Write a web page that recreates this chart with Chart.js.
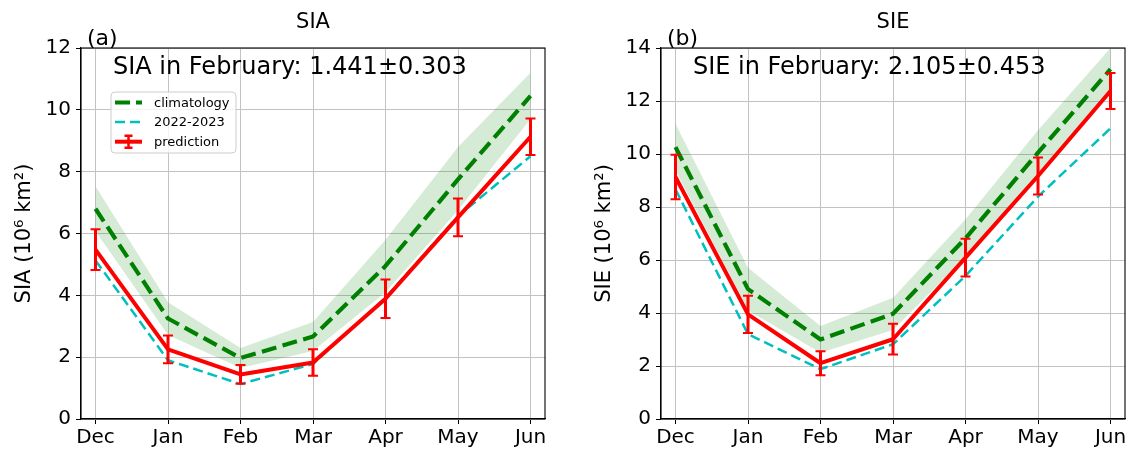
<!DOCTYPE html>
<html>
<head>
<meta charset="utf-8">
<script src="https://cdn.jsdelivr.net/npm/chart.js@4.4.1/dist/chart.umd.min.js"></script>
<style>
  body { margin: 0; background: #fff; }
  #wrap { position: relative; width: 1131px; height: 450px; }
  canvas { position: absolute; top: 0; }
</style>
</head>
<body>
<div id="wrap">
  <canvas id="sia" width="565" height="450" style="left:0"></canvas>
  <canvas id="sie" width="566" height="450" style="left:565px"></canvas>
</div>
<script>
const months = ['Dec', 'Jan', 'Feb', 'Mar', 'Apr', 'May', 'Jun'];

// SIA (10^6 km^2)
const siaClim     = [6.80, 3.25, 1.97, 2.67, 4.95, 7.75, 10.45];
const siaClimLow  = [6.07, 2.72, 1.65, 2.20, 4.10, 6.75, 9.70];
const siaClimHigh = [7.53, 3.78, 2.30, 3.14, 5.80, 8.80, 11.20];
const siaObs      = [5.13, 1.90, 1.13, 1.78, 3.92, 6.56, 8.50];
const siaPred     = [5.48, 2.25, 1.441, 1.83, 3.89, 6.52, 9.13];
const siaErr      = [0.66, 0.45, 0.303, 0.43, 0.62, 0.61, 0.59];

// SIE (10^6 km^2)
const sieClim     = [10.26, 4.90, 3.00, 3.97, 6.82, 10.05, 13.20];
const sieClimLow  = [9.38, 4.09, 2.50, 3.36, 6.10, 9.20, 12.40];
const sieClimHigh = [11.14, 5.71, 3.51, 4.58, 7.54, 10.90, 14.00];
const sieObs      = [8.67, 3.20, 1.88, 2.82, 5.40, 8.39, 10.97];
const siePred     = [9.13, 3.95, 2.105, 3.01, 6.09, 9.17, 12.38];
const sieErr      = [0.84, 0.70, 0.453, 0.58, 0.71, 0.70, 0.68];

const FONT = 'DejaVu Sans';
const GREEN = '#008000', CYAN = '#00bfbf', RED = '#ff0000';

const toXY = arr => arr.map((v, i) => ({ x: i, y: v }));

// error bars, title, panel letter, note, frame and legend
const extras = {
  id: 'extras',
  afterDatasetsDraw(chart, args, opts) {
    const ctx = chart.ctx, xs = chart.scales.x, ys = chart.scales.y;
    ctx.save();
    ctx.strokeStyle = RED;
    opts.values.forEach((v, i) => {
      const x = xs.getPixelForValue(i);
      const y1 = ys.getPixelForValue(v - opts.errors[i]);
      const y2 = ys.getPixelForValue(v + opts.errors[i]);
      ctx.lineWidth = 3;
      ctx.beginPath(); ctx.moveTo(x, y1); ctx.lineTo(x, y2); ctx.stroke();
      ctx.lineWidth = 2;
      ctx.beginPath();
      ctx.moveTo(x - 5, y1); ctx.lineTo(x + 5, y1);
      ctx.moveTo(x - 5, y2); ctx.lineTo(x + 5, y2);
      ctx.stroke();
    });
    ctx.restore();
  },
  afterDraw(chart, args, opts) {
    const ctx = chart.ctx, a = chart.chartArea;
    ctx.save();
    // frame
    ctx.strokeStyle = '#000';
    ctx.lineWidth = 1.1;
    ctx.strokeRect(a.left, a.top, a.right - a.left, a.bottom - a.top);
    // texts
    ctx.fillStyle = '#000';
    ctx.textBaseline = 'alphabetic';
    ctx.textAlign = 'center';
    ctx.font = '21px "' + FONT + '"';
    ctx.fillText(opts.title, (a.left + a.right) / 2, a.top - 20);
    ctx.textAlign = 'left';
    ctx.font = '22px "' + FONT + '"';
    ctx.fillText(opts.panel, a.left + 6, a.top - 3);
    ctx.font = '24px "' + FONT + '"';
    ctx.fillText(opts.note, a.left + 32, a.top + 26);
    if (opts.legend) {
      const bx = a.left + 30, by = a.top + 44, bw = 125, bh = 61;
      ctx.beginPath();
      ctx.roundRect(bx, by, bw, bh, 4);
      ctx.fillStyle = 'rgba(255,255,255,0.8)';
      ctx.fill();
      ctx.strokeStyle = '#cccccc';
      ctx.lineWidth = 1;
      ctx.stroke();
      const x0 = a.left + 34, x1 = a.left + 61, tx = a.left + 73;
      const rows = [
        { label: 'climatology', color: GREEN, width: 4.2, dash: [15, 6] },
        { label: '2022-2023', color: CYAN, width: 2.5, dash: [10, 5] },
        { label: 'prediction', color: RED, width: 4, dash: [] }
      ];
      ctx.font = '13px "' + FONT + '"';
      ctx.textBaseline = 'middle';
      rows.forEach((r, k) => {
        const y = a.top + 54.5 + k * 19.6;
        ctx.strokeStyle = r.color;
        ctx.lineWidth = r.width;
        ctx.setLineDash(r.dash);
        ctx.beginPath(); ctx.moveTo(x0, y); ctx.lineTo(x1, y); ctx.stroke();
        ctx.setLineDash([]);
        if (k === 2) {
          const xm = (x0 + x1) / 2;
          ctx.lineWidth = 2.5;
          ctx.beginPath();
          ctx.moveTo(xm, y - 6); ctx.lineTo(xm, y + 6);
          ctx.moveTo(xm - 4, y - 6); ctx.lineTo(xm + 4, y - 6);
          ctx.moveTo(xm - 4, y + 6); ctx.lineTo(xm + 4, y + 6);
          ctx.stroke();
        }
        ctx.fillStyle = '#000';
        ctx.fillText(r.label, tx, y + 1);
      });
    }
    ctx.restore();
  }
};

function makeChart(id, cfg) {
  return new Chart(document.getElementById(id), {
    type: 'line',
    data: {
      datasets: [
        { label: 'prediction', data: toXY(cfg.pred), borderColor: RED, borderWidth: 4, fill: false },
        { label: '2022-2023', data: toXY(cfg.obs), borderColor: CYAN, borderWidth: 2.5, borderDash: [10, 5], fill: false },
        { label: 'climatology', data: toXY(cfg.clim), borderColor: GREEN, borderWidth: 4.2, borderDash: [15, 6.5], fill: false },
        { label: 'band high', data: toXY(cfg.high), borderColor: 'transparent', borderWidth: 1, fill: '+1', backgroundColor: 'rgba(0,128,0,0.16)' },
        { label: 'band low', data: toXY(cfg.low), borderColor: 'transparent', borderWidth: 1, fill: false }
      ]
    },
    options: {
      responsive: false,
      animation: false,
      events: [],
      elements: {
        point: { radius: 0 },
        line: { tension: 0, borderJoinStyle: 'round' }
      },
      layout: { padding: { left: 0, right: cfg.padRight, top: 48, bottom: 0 } },
      scales: {
        x: {
          type: 'linear',
          min: -0.2,
          max: 6.2,
          afterBuildTicks: s => { s.ticks = months.map((m, i) => ({ value: i })); },
          afterFit: s => { s.height = 31; },
          ticks: {
            callback: v => months[v],
            font: { family: FONT, size: 20 },
            color: '#000',
            padding: 2,
            maxRotation: 0
          },
          grid: { color: '#c2c2c2', lineWidth: 1, tickLength: 5, tickColor: '#000' },
          border: { display: true, color: '#000', width: 1.1 }
        },
        y: {
          min: 0,
          max: cfg.ymax,
          afterFit: s => { s.width = cfg.yWidth; },
          ticks: {
            stepSize: 2,
            font: { family: FONT, size: 20 },
            color: '#000',
            padding: 5
          },
          grid: { color: '#c2c2c2', lineWidth: 1, tickLength: 5, tickColor: '#000' },
          border: { display: true, color: '#000', width: 1.1 },
          title: {
            display: true,
            text: cfg.ylabel,
            font: { family: FONT, size: 21 },
            color: '#000',
            padding: { top: cfg.titlePad, bottom: 0 }
          }
        }
      },
      plugins: {
        legend: { display: false },
        tooltip: { enabled: false },
        title: { display: false },
        extras: {
          title: cfg.title,
          panel: cfg.panel,
          note: cfg.note,
          legend: cfg.legend,
          values: cfg.pred,
          errors: cfg.err
        }
      }
    },
    plugins: [extras]
  });
}

makeChart('sia', {
  title: 'SIA', panel: '(a)', note: 'SIA in February: 1.441\u00b10.303',
  ylabel: 'SIA (10\u2076 km\u00b2)', ymax: 12, yWidth: 81, padRight: 20, titlePad: 12,
  clim: siaClim, low: siaClimLow, high: siaClimHigh, obs: siaObs, pred: siaPred, err: siaErr,
  legend: true
});

makeChart('sie', {
  title: 'SIE', panel: '(b)', note: 'SIE in February: 2.105\u00b10.453',
  ylabel: 'SIE (10\u2076 km\u00b2)', ymax: 14, yWidth: 96, padRight: 6, titlePad: 27,
  clim: sieClim, low: sieClimLow, high: sieClimHigh, obs: sieObs, pred: siePred, err: sieErr,
  legend: false
});
</script>
</body>
</html>
